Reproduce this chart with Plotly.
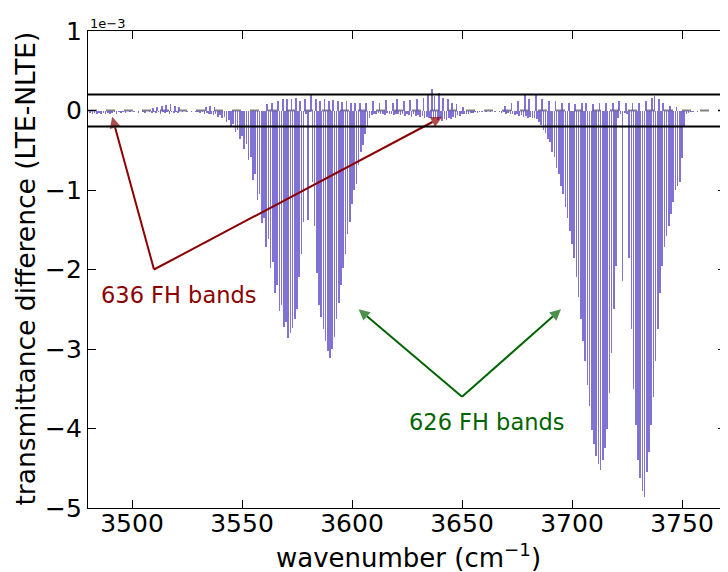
import plotly.graph_objects as go

# ---------------- data (transmittance difference, units of 1e-3) ----------------
wn_quiet_left = [3481, 3482, 3483, 3484, 3485, 3486, 3487, 3488, 3489, 3490,
                 3491, 3492, 3493, 3494, 3495, 3496, 3497, 3498, 3499, 3500,
                 3501, 3502, 3503, 3504, 3505, 3506, 3507, 3508, 3509, 3510,
                 3511, 3512, 3513, 3514, 3515, 3516, 3517, 3518, 3519, 3520,
                 3521, 3522, 3523, 3524, 3525, 3526, 3527, 3528, 3529, 3530,
                 3531, 3532, 3533, 3534, 3535, 3536, 3537, 3538, 3539, 3540]
val_quiet_left = [-0.03, -0.04, -0.03, -0.05, -0.03, -0.04, -0.03, -0.05, -0.03, -0.04,
                  -0.03, -0.02, -0.04, -0.02, -0.03, -0.02, -0.03, -0.01, -0.02, -0.01,
                  -0.02, -0.01, -0.03, -0.01, -0.02, -0.03, -0.01, -0.02, -0.03, -0.02,
                  -0.03, -0.02, -0.04, -0.02, -0.03, -0.02, -0.04, -0.02, -0.03, -0.02,
                  -0.03, -0.01, -0.02, -0.01, -0.02, -0.01, -0.02, -0.01, -0.02, -0.02,
                  -0.03, -0.02, -0.04, -0.03, -0.05, -0.04, -0.06, -0.05, -0.08, -0.06]

wn_636 = [3541, 3542, 3543, 3544, 3545, 3546, 3547, 3548, 3549, 3550,
          3551, 3552, 3553, 3554, 3555, 3556, 3557, 3558, 3559, 3560,
          3561, 3562, 3563, 3564, 3565, 3566, 3567, 3568, 3569, 3570,
          3571, 3572, 3573, 3574, 3575, 3576, 3577, 3578, 3579, 3580,
          3581, 3582, 3583, 3584, 3585, 3586, 3587, 3588, 3589, 3590,
          3591, 3592, 3593, 3594, 3595, 3596, 3597, 3598, 3599, 3600,
          3601, 3602, 3603, 3604, 3605, 3606, 3607, 3608]
val_636 = [-0.10, -0.08, -0.14, -0.12, -0.20, -0.17, -0.27, -0.24, -0.36, -0.32,
           -0.48, -0.42, -0.62, -0.58, -0.88, -0.80, -1.12, -1.05, -1.42, -1.35,
           -1.72, -1.62, -1.98, -1.90, -2.30, -2.20, -2.52, -2.45, -2.72, -2.66,
           -2.86, -2.80, -2.74, -2.62, -2.50, -2.10, -1.80, -1.40, -0.05, -1.38,
           -0.02, -0.90, -1.45, -2.05, -2.45, -2.60, -2.75, -2.90, -3.02, -3.11,
           -3.00, -2.85, -2.62, -2.42, -2.20, -1.98, -1.80, -1.55, -1.40, -1.18,
           -1.00, -0.92, -0.68, -0.52, -0.44, -0.30, -0.20, -0.10]

wn_quiet_mid = [3609, 3610, 3611, 3612, 3613, 3614, 3615, 3616, 3617, 3618,
                3619, 3620, 3621, 3622, 3623, 3624, 3625, 3626, 3627, 3628,
                3629, 3630, 3631, 3632, 3633, 3634, 3635, 3636, 3637, 3638,
                3639, 3640, 3641, 3642, 3643, 3644, 3645, 3646, 3647, 3648,
                3649, 3650, 3651, 3652, 3653, 3654, 3655, 3656, 3657, 3658,
                3659, 3660, 3661, 3662, 3663, 3664, 3665, 3666, 3667, 3668,
                3669, 3670, 3671, 3672, 3673, 3674, 3675, 3676, 3677, 3678,
                3679, 3680, 3681, 3682, 3683, 3684]
val_quiet_mid = [-0.06, -0.04, -0.05, -0.03, -0.05, -0.04, -0.06, -0.03, -0.05, -0.04,
                 -0.06, -0.04, -0.05, -0.06, -0.04, -0.07, -0.05, -0.06, -0.08, -0.05,
                 -0.07, -0.06, -0.08, -0.07, -0.09, -0.08, -0.10, -0.09, -0.11, -0.10,
                 -0.12, -0.10, -0.13, -0.11, -0.12, -0.10, -0.11, -0.08, -0.09, -0.06,
                 -0.07, -0.05, -0.05, -0.04, -0.04, -0.03, -0.03, -0.02, -0.03, -0.02,
                 -0.02, -0.01, -0.02, -0.01, -0.02, -0.01, -0.02, -0.01, -0.02, -0.03,
                 -0.02, -0.04, -0.03, -0.05, -0.04, -0.06, -0.05, -0.07, -0.06, -0.08,
                 -0.07, -0.09, -0.08, -0.10, -0.09, -0.11]

wn_626 = [3685, 3686, 3687, 3688, 3689, 3690, 3691, 3692, 3693, 3694,
          3695, 3696, 3697, 3698, 3699, 3700, 3701, 3702, 3703, 3704,
          3705, 3706, 3707, 3708, 3709, 3710, 3711, 3712, 3713, 3714,
          3715, 3716, 3717, 3718, 3719, 3720, 3721, 3722, 3723, 3724,
          3725, 3726, 3727, 3728, 3729, 3730, 3731, 3732, 3733, 3734,
          3735, 3736, 3737, 3738, 3739, 3740, 3741, 3742, 3743, 3744,
          3745, 3746, 3747, 3748, 3749, 3750, 3751, 3752]
val_626 = [-0.15, -0.18, -0.25, -0.28, -0.36, -0.40, -0.52, -0.58, -0.72, -0.80,
           -0.95, -1.05, -1.22, -1.35, -1.52, -1.68, -1.85, -2.10, -2.35, -2.62,
           -2.90, -3.15, -3.45, -3.72, -4.02, -4.20, -4.35, -4.45, -4.52, -4.40,
           -4.25, -4.00, -3.55, -3.05, -2.50, -1.95, -0.10, -0.05, -2.15, -0.03,
           -0.05, -1.85, -2.75, -3.50, -3.95, -4.40, -4.62, -4.78, -4.86, -4.55,
           -4.30, -3.95, -3.60, -3.15, -2.75, -2.30, -1.95, -1.72, -1.58, -1.45,
           -1.30, -1.15, -1.00, -0.95, -0.90, -0.60, -0.20, -0.05]

wn_quiet_right = [3753, 3754, 3755, 3756, 3757, 3758, 3759, 3760, 3761,
                  3762, 3763, 3764, 3765, 3766, 3767, 3768, 3769]
val_quiet_right = [-0.03, -0.02, -0.02, -0.01, -0.02, -0.01, -0.01, -0.01, -0.01,
                   -0.01, -0.01, -0.01, -0.01, -0.01, -0.01, -0.01, -0.01]

# small positive (emission-like) lines
wn_pos = [3509.5, 3511.5, 3513.5, 3515.5, 3517.5, 3519.5, 3521.5, 3533.5, 3535.5, 3537.5,
          3561.5, 3563.5, 3566.5, 3568.5, 3570.5, 3572.5, 3574.5, 3576.5, 3578.5, 3581.5,
          3583.5, 3585.5, 3587.5, 3589.5, 3591.5, 3593.5, 3595.5, 3597.5, 3599.5, 3601.5,
          3603.5, 3606.5, 3609.5, 3612.5, 3615.5, 3618.5, 3620.5, 3623.5, 3626.5, 3629.5,
          3632.5, 3634.5, 3636.5, 3637.5, 3639.5, 3641.5, 3643.5, 3645.5, 3647.5, 3650.5,
          3669.5, 3672.5, 3675.5, 3678.5, 3680.5, 3683.5, 3686.5, 3689.5, 3692.5, 3695.5,
          3698.5, 3701.5, 3704.5, 3706.5, 3709.5, 3712.5, 3715.5, 3718.5, 3721.5, 3724.5,
          3727.5, 3730.5, 3733.5, 3736.5, 3737.5, 3739.5, 3741.5, 3744.5, 3747.5]
val_pos = [0.03, 0.05, 0.06, 0.07, 0.08, 0.06, 0.04, 0.05, 0.06, 0.05,
           0.08, 0.10, 0.12, 0.14, 0.15, 0.14, 0.16, 0.12, 0.14, 0.20,
           0.15, 0.12, 0.14, 0.12, 0.13, 0.12, 0.11, 0.12, 0.10, 0.10,
           0.09, 0.10, 0.12, 0.10, 0.13, 0.10, 0.14, 0.12, 0.13, 0.15,
           0.16, 0.20, 0.27, 0.18, 0.22, 0.16, 0.14, 0.10, 0.08, 0.05,
           0.06, 0.10, 0.12, 0.19, 0.14, 0.19, 0.15, 0.12, 0.12, 0.10,
           0.10, 0.08, 0.09, 0.10, 0.08, 0.10, 0.09, 0.10, 0.12, 0.10,
           0.09, 0.10, 0.12, 0.16, 0.18, 0.15, 0.10, 0.06, 0.04]

threshold = 0.2          # +/- limit lines (1e-3)
x_range = [3480, 3770]
y_range = [-5, 1]
x_ticks = [3500, 3550, 3600, 3650, 3700, 3750]
y_ticks = [1, 0, -1, -2, -3, -4, -5]
y_ticktext = ["1", "0", "\u22121", "\u22122", "\u22123", "\u22124", "\u22125"]

arrow636_vertex = (3510, -2.0)
arrow636_tips = [(3491, -0.08), (3641, -0.08)]
arrow626_vertex = (3650, -3.6)
arrow626_tips = [(3603, -2.5), (3695, -2.5)]
label636 = (3521, -2.32)
label626 = (3661, -3.92)

# ---------------- figure ----------------
wn_all = wn_quiet_left + wn_636 + wn_quiet_mid + wn_626 + wn_quiet_right
val_all = val_quiet_left + val_636 + val_quiet_mid + val_626 + val_quiet_right

FONT = "DejaVu Sans"
bar_color = "rgba(106,90,205,0.85)"

fig = go.Figure()
fig.add_trace(go.Bar(x=wn_all, y=val_all, width=0.75, marker_color=bar_color,
                     marker_line_width=0, showlegend=False, hoverinfo="skip"))
fig.add_trace(go.Bar(x=wn_pos, y=val_pos, width=0.75, marker_color=bar_color,
                     marker_line_width=0, showlegend=False, hoverinfo="skip"))

# zero dashed line (below) and threshold lines (above)
fig.add_shape(type="line", xref="x", yref="y", x0=x_range[0], x1=x_range[1], y0=0, y1=0,
              line=dict(color="gray", width=2, dash="dash"), layer="below")
for t in (threshold, -threshold):
    fig.add_shape(type="line", xref="x", yref="y", x0=x_range[0], x1=x_range[1], y0=t, y1=t,
                  line=dict(color="black", width=2), layer="above")

# arrows: line from common vertex to tip, arrowhead marker oriented along segment
def add_arrow(vertex, tip, color):
    fig.add_trace(go.Scatter(x=[vertex[0], tip[0]], y=[vertex[1], tip[1]],
                             mode="lines+markers", line=dict(color=color, width=2),
                             marker=dict(symbol="arrow-up", size=[0, 11], color=color,
                                         angleref="previous", line=dict(width=0)),
                             showlegend=False, hoverinfo="skip", cliponaxis=False))

for tip in arrow636_tips:
    add_arrow(arrow636_vertex, tip, "#8b0000")
for tip in arrow626_tips:
    add_arrow(arrow626_vertex, tip, "#006400")

fig.add_annotation(x=label636[0], y=label636[1], xref="x", yref="y", text="636 FH bands",
                   showarrow=False, font=dict(family=FONT, size=22.5, color="#8b0000"))
fig.add_annotation(x=label626[0], y=label626[1], xref="x", yref="y", text="626 FH bands",
                   showarrow=False, font=dict(family=FONT, size=22.5, color="#006400"))

# pixel geometry (page pixels); the html body adds an 8px offset
OFF = 8
W, H = 728, 572
L, R, T, B = 88 - OFF, 727 - OFF, 28 - OFF, 508 - OFF
def px(xp):
    return (xp - OFF - L) / (R - L)
def py(yp):
    return (B - (yp - OFF)) / (B - T)

fig.add_annotation(x=px(88), y=py(20.5), xref="paper", yref="paper", text="1e\u22123",
                   xanchor="left", yanchor="middle", showarrow=False,
                   font=dict(family=FONT, size=13, color="black"))
fig.add_annotation(x=px(25), y=py(267), xref="paper", yref="paper",
                   text="transmittance difference (LTE-NLTE)", textangle=-90,
                   xanchor="center", yanchor="middle", showarrow=False,
                   font=dict(family=FONT, size=26.5, color="black"))
fig.add_annotation(x=px(409), y=py(556), xref="paper", yref="paper",
                   text="wavenumber (cm<sup>\u22121</sup>)",
                   xanchor="center", yanchor="middle", showarrow=False,
                   font=dict(family=FONT, size=26, color="black"))

axis_common = dict(showgrid=False, zeroline=False, showline=True, linecolor="black",
                   linewidth=1.3, mirror="allticks", ticks="inside", ticklen=8,
                   tickwidth=1, tickcolor="black",
                   tickfont=dict(family=FONT, size=25, color="black"))
fig.update_xaxes(range=x_range, tickvals=x_ticks, ticktext=[str(v) for v in x_ticks],
                 ticklabelstandoff=-7, **axis_common)
fig.update_yaxes(range=y_range, tickvals=y_ticks, ticktext=y_ticktext, **axis_common)

fig.update_layout(width=W, height=H, margin=dict(l=L, r=W - R, t=T, b=H - B),
                  paper_bgcolor="white", plot_bgcolor="white", barmode="overlay",
                  bargap=0, font=dict(family=FONT), showlegend=False)

fig.write_html("out.html")
